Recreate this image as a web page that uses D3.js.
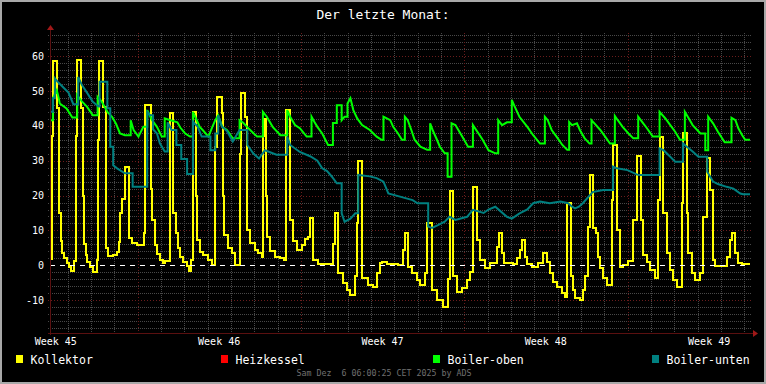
<!DOCTYPE html>
<html>
<head>
<meta charset="utf-8">
<script src="https://cdn.jsdelivr.net/npm/d3@7"></script>
<style>
  html, body { margin: 0; padding: 0; background: #000; }
  svg { display: block; }
  text { font-family: "DejaVu Sans Mono", monospace; }
</style>
</head>
<body>
<script>
// values: [hours since start, temperature]
const kollektor = [
  [1,1.7],[2,37],[3,58.6],[7,45],[9,15],[11,7],[12,3.6],[14,2],[17,0.7],[20,-0.6],[22,-1.5],[25,1.2],
  [27,37],[28,59],[32,45],[34,20],[35,6],[37,3],[38,1],[41,-0.6],[44,-1.8],[48,1.5],
  [49,36],[50,58.5],[55,45.4],[58,4.9],[60,2.7],[65,3],[69,3.8],[71,6.8],[72,15],[74,19],[77,28.3],
  [81,7.8],[84,6.4],[89,5.8],[97,9.2],[98,46],[104,22],[105,13],[108,5.8],[110,3.2],[113,1.5],[116,0.7],[118,1.3],
  [123,43.6],[127,15],[130,9.2],[132,5],[134,2.5],[137,1],[141,-0.2],[143,-1.5],[145,1.5],
  [147,44],[150,20],[151,7.3],[154,3.9],[157,3],[163,1.5],[167,0],
  [170,34],[172,48.3],[177,43.6],[178,20],[179,8.7],[183,5],[187,3.5],[190,0],
  [195,32],[196,49.3],[201,42.6],[203,10],[206,6.4],[211,4.4],[214,3.5],[218,2.5],
  [219,37],[220,42],[222,20],[223,8],[226,4],[231,2.5],[237,2],[241,1.5],
  [243,44.5],[247,13],[250,7],[254,4.4],[259,5.8],[262,7.5],[265,8.2],[267,13.7],[271,1.5],[276,0.4],
  [291,6],[293,15],[296,-2.3],[301,-5],[305,-7],[309,-8.5],[314,-3],[316,12],[317,30],
  [321,-3.6],[327,-5.6],[332,-6.1],[336,-2.3],[339,0.6],[341,1],[347,0.3],[358,0],
  [363,4.4],[365,9.2],[368,-0.4],[372,-2.3],[377,-4.2],[381,-5.6],[386,-2.3],[388,12],
  [393,-7],[398,-10],[404,-12],[409,-4],[411,21.3],[415,-3],[419,-7.6],[424,-6.6],[429,-4.2],[432,-1.8],
  [435,22.5],[439,7.2],[442,1.5],[447,-0.8],[453,0.6],[460,5.3],[462,9.2],[465,3.5],[467,0.75],
  [476,0.4],[480,2],[483,4.4],[485,7.2],[489,2.5],[491,0.4],[496,-0.4],[502,0.6],[507,3.5],[511,1],
  [514,-2.3],[517,-4.7],[521,-6.1],[527,-8],[530,-9],[532,17.8],[536,-3],[538,-7],[540,-9.5],[545,-10],
  [548,-7],[550,-3],[553,11],[555,25.9],[559,10.7],[562,9.2],[564,2.5],[566,-0.8],[569,-3.6],[573,-5.6],
  [578,18.7],[579,34.5],[583,10],[586,-0.4],[589,0],[595,1.3],[600,13],[604,31.3],[608,13],[610,3],
  [614,1],[617,-1.3],[622,-3.6],[625,18.7],[627,36.9],[631,15],[635,3.5],[638,-1.3],[641,-4.2],[645,-6.1],
  [650,18],[651,37.9],[655,15],[656,3.5],[660,-2.3],[663,-4.2],[669,-2.3],[672,13.9],[676,30.7],[679,21.6],
  [682,1.5],[684,-0.2],[696,2.5],[699,7.2],[701,9.2],[705,3.5],[708,0.7],[712,0.4]
];

const heizkessel = [];

const boilerOben = [
  [1,41.6],[3,47.9],[7,50.2],[9,47.9],[10,46.4],[17,45],[23,42.4],[28,48.8],[33,46.9],[38,45.5],[44,43],
  [49,48.3],[53,47],[59,44],[64,42.5],[68,40.5],[72,37.8],[77,37.3],[83,41.6],[86,38.8],[91,36.9],[96,39.7],
  [100,44.5],[105,41.6],[110,39.7],[115,36.9],[118,42.1],[131,41],[134,39.5],[139,37.8],[144,36.9],
  [147,44],[151,41.6],[154,39.7],[157,38.8],[163,36.9],[167,39.7],[170,41.6],[173,43],[177,39.7],[182,38.8],
  [188,36.4],[195,41.6],[199,40.8],[204,39.3],[213,36.9],[219,44],[223,42.6],[229,39.7],[237,37.3],
  [244,44.5],[247,42.6],[252,40.2],[257,39.3],[264,36.9],[269,42.6],[272,41.1],[275,39.7],[280,37.8],[286,34.5],
  [291,40.8],[295,45.9],[300,41.6],[303,42.6],[306,46.4],[309,47.9],[312,44.5],[316,42.1],[321,40.2],[329,38.8],
  [336,36.9],[341,36],[343,42.6],[350,41.6],[353,39.7],[358,37.8],[362,36],[365,42.6],[368,41.6],[372,38.5],
  [375,36],[381,34],[388,33.1],[391,40.7],[394,38.5],[398,36],[401,34],[406,32.1],[409,25.4],[413,40.7],
  [417,40.2],[424,36.9],[430,34],[435,40.2],[442,37.3],[445,36],[451,33],[458,32.1],[461,41.6],[465,40.2],
  [470,41],[475,47.4],[478,45.5],[483,42.5],[491,39.7],[497,37.3],[504,34.9],[509,42.6],[512,41.6],[516,38.8],
  [521,36.9],[527,34.5],[532,33.1],[534,41.1],[537,40.2],[542,40.7],[545,38.8],[550,36.4],[555,34.9],
  [557,41.6],[560,40.7],[566,38.8],[571,36.9],[576,34.9],[581,42.8],[584,41.6],[589,39.7],[595,37.8],[600,36.4],
  [605,42.6],[609,41.1],[614,39.3],[620,36.9],[627,44],[633,42.1],[638,40.2],[643,38.3],[648,36],
  [653,44],[656,42.6],[661,40.2],[669,37.8],[674,33],[677,42.6],[682,40.7],[687,38.3],[694,35.3],
  [701,42.3],[705,41.6],[708,39.3],[712,37.3],[715,36]
];

const boilerUnten = [
  [1,44],[3,47.9],[5,53.6],[8,52.6],[13,51.2],[19,49.5],[24,46.2],[29,54],[33,51.6],[38,49.5],[44,46.9],
  [50,45.5],[51,52.6],[59,45],[62,34],[65,28.7],[69,27.8],[77,26.4],[85,22.5],[100,44],[103,43],[106,39],
  [110,37.8],[113,35],[118,32.6],[121,41],[125,38.8],[130,34.5],[135,30.5],[141,26.2],[147,41.2],[152,39.7],
  [156,36.9],[165,33],[170,37.8],[173,43],[177,39.7],[182,38.5],[188,35.5],[195,38.8],[203,34.5],[209,32.1],
  [215,30.6],[221,33],[233,31.7],[244,36.9],[247,34.5],[257,32.5],[268,31.2],[275,30],[280,27.8],[285,27],
  [290,25.4],[295,23.5],[300,14.9],[303,12.5],[309,13.4],[314,14.9],[317,25.9],[329,25.5],[336,25],
  [343,24],[348,20.6],[360,19.7],[373,18.7],[378,17.8],[389,11.1],[393,10.7],[399,11.5],[406,12.5],[411,13.9],
  [417,13],[429,13.9],[435,15.9],[446,15],[451,16],[458,16.8],[470,13.9],[475,13.4],[483,14.9],[491,16],
  [497,17.8],[504,18.3],[514,17.8],[525,18.3],[533,17.8],[537,16.8],[540,16.3],[544,16.8],[548,17.8],
  [557,20.6],[558,21],[569,21.6],[579,28.3],[583,27.8],[594,27.3],[604,26],[607,25.9],[627,33.5],[631,33],
  [638,31.1],[643,29.7],[651,35],[655,34],[661,32.6],[667,31.1],[676,26.8],[682,24],[687,23.3],[696,22.5],
  [703,22],[710,20.6],[713,20.4]
];

const startTime = "2025-11-06T06:00:00Z";
const endTime = "2025-12-06T06:00:00Z";
const weekStarts = ["2025-11-03", "2025-11-10", "2025-11-17", "2025-11-24", "2025-12-01"];
const weekLabels = ["Week 45", "Week 46", "Week 47", "Week 48", "Week 49"];
const yTicks = [-10, 0, 10, 20, 30, 40, 50, 60];
const yDomain = [-19.4, 66.6];

// jump: changes bigger than this are drawn as hard steps, smaller ones as slopes
const series = [
  { name: "Kollektor", color: "#ffff00", values: kollektor, jump: 0 },
  { name: "Heizkessel", color: "#ff0000", values: heizkessel, jump: 0 },
  { name: "Boiler-oben", color: "#00ff00", values: boilerOben, jump: 3.5 },
  { name: "Boiler-unten", color: "#008080", values: boilerUnten, jump: 3.5 }
];

const W = 766, H = 384;
const plotL = 50, plotR = 750, plotT = 33, plotB = 333;
const spanHours = 720;

const t0 = new Date(startTime), t1 = new Date(endTime);
const hourToDate = (h) => new Date(t0.getTime() + h * 3600e3);

const x = d3.scaleUtc().domain([t0, t1]).range([plotL, plotR]);
const y = d3.scaleLinear().domain(yDomain).range([plotB, plotT]);

const svg = d3.select("body").append("svg")
  .attr("width", W)
  .attr("height", H);

// frame
svg.append("rect").attr("width", W).attr("height", H).attr("fill", "#a8a8a8");
svg.append("rect").attr("x", 2).attr("y", 2).attr("width", W - 4).attr("height", H - 4).attr("fill", "#000");

const grid = svg.append("g").attr("shape-rendering", "crispEdges");

// minor horizontal grid every 2 units
const minorY = d3.range(-18, 67, 2).filter((v) => v % 10 !== 0);
grid.selectAll(".hmin")
  .data(minorY)
  .enter()
  .append("line")
  .attr("x1", plotL - 2).attr("x2", plotR + 2)
  .attr("y1", (d) => Math.round(y(d)) + 0.5)
  .attr("y2", (d) => Math.round(y(d)) + 0.5)
  .attr("stroke", "#484848")
  .attr("stroke-dasharray", "1,1");

// minor vertical grid at each day
const days = d3.utcDay.range(t0, t1).filter((d) => d.getUTCDay() !== 1);
grid.selectAll(".vmin")
  .data(days)
  .enter()
  .append("line")
  .attr("x1", (d) => Math.round(x(d)) + 0.5)
  .attr("x2", (d) => Math.round(x(d)) + 0.5)
  .attr("y1", plotT).attr("y2", plotB + 2)
  .attr("stroke", "#484848")
  .attr("stroke-dasharray", "1,1");

// major grid
grid.selectAll(".hmaj")
  .data(yTicks.filter((v) => v !== 0))
  .enter()
  .append("line")
  .attr("x1", plotL - 2).attr("x2", plotR + 2)
  .attr("y1", (d) => Math.round(y(d)) + 0.5)
  .attr("y2", (d) => Math.round(y(d)) + 0.5)
  .attr("stroke", "#6a1c1c")
  .attr("stroke-dasharray", "1,2");

grid.selectAll(".vmaj")
  .data(d3.utcMonday.range(t0, t1))
  .enter()
  .append("line")
  .attr("x1", (d) => Math.round(x(d)) + 0.5)
  .attr("x2", (d) => Math.round(x(d)) + 0.5)
  .attr("y1", plotT).attr("y2", plotB + 2)
  .attr("stroke", "#6a1c1c")
  .attr("stroke-dasharray", "1,2");

// y labels
svg.selectAll(".ylab")
  .data(yTicks)
  .enter()
  .append("text")
  .attr("x", 44)
  .attr("y", (d) => y(d) + 3.6)
  .attr("text-anchor", "end")
  .attr("fill", "#ffffff")
  .attr("font-size", "10px")
  .text((d) => d);

// x labels (centred in the middle of each week)
svg.selectAll(".xlab")
  .data(weekStarts)
  .enter()
  .append("text")
  .attr("x", (d) => x(new Date(new Date(d + "T00:00:00Z").getTime() + 3.5 * 864e5)))
  .attr("y", 345)
  .attr("text-anchor", "middle")
  .attr("fill", "#ffffff")
  .attr("font-size", "10px")
  .text((d, i) => weekLabels[i]);

// lines: vertices for a stepped trace, small changes drawn as slopes
function vertices(values, jump) {
  const pts = values.concat([[spanHours, values[values.length - 1][1]]]);
  const out = [pts[0]];
  for (let i = 1; i < pts.length; i++) {
    const a = pts[i - 1], b = pts[i];
    if (Math.abs(b[1] - a[1]) > jump) out.push([b[0], a[1]]);
    out.push(b);
  }
  return out;
}

const line = d3.line()
  .x((d) => x(hourToDate(d[0])))
  .y((d) => y(d[1]));

series.forEach((s) => {
  if (!s.values.length) return;
  svg.append("path")
    .datum(vertices(s.values, s.jump))
    .attr("d", line)
    .attr("fill", "none")
    .attr("stroke", s.color)
    .attr("stroke-width", 2)
    .attr("stroke-linejoin", "miter")
    .attr("shape-rendering", s.jump ? "auto" : "crispEdges");
});

// zero rule
svg.append("line")
  .attr("x1", plotL).attr("x2", plotR)
  .attr("y1", Math.round(y(0)) + 0.5).attr("y2", Math.round(y(0)) + 0.5)
  .attr("stroke", "#ffffff")
  .attr("stroke-dasharray", "5,5")
  .attr("shape-rendering", "crispEdges");

// axes with arrows
const axis = svg.append("g").attr("shape-rendering", "crispEdges");
axis.append("line")
  .attr("x1", plotL - 2).attr("x2", plotR + 5)
  .attr("y1", plotB + 0.5).attr("y2", plotB + 0.5)
  .attr("stroke", "#5a1010");
axis.append("line")
  .attr("x1", plotL + 0.5).attr("x2", plotL + 0.5)
  .attr("y1", plotB + 2).attr("y2", plotT - 4)
  .attr("stroke", "#5a1010");
svg.append("path")
  .attr("d", `M${plotR + 3},${plotB - 3}L${plotR + 8},${plotB + 0.5}L${plotR + 3},${plotB + 4}Z`)
  .attr("fill", "#a01818");
svg.append("path")
  .attr("d", `M${plotL - 3},${plotT - 3}L${plotL + 0.5},${plotT - 8}L${plotL + 4},${plotT - 3}Z`)
  .attr("fill", "#a01818");

// title
svg.append("text")
  .attr("x", 383)
  .attr("y", 18.5)
  .attr("text-anchor", "middle")
  .attr("fill", "#ffffff")
  .attr("font-size", "13px")
  .text("Der letzte Monat:");

// legend
const legendX = [16, 221, 433, 652];
const legend = svg.selectAll(".leg")
  .data(series)
  .enter()
  .append("g")
  .attr("transform", (d, i) => `translate(${legendX[i]},355)`);
legend.append("rect")
  .attr("width", 7).attr("height", 8)
  .attr("fill", (d) => d.color);
legend.append("text")
  .attr("x", 14.5)
  .attr("y", 8.5)
  .attr("fill", "#ffffff")
  .attr("font-size", "11.5px")
  .text((d) => d.name);

// footer
svg.append("text")
  .attr("x", 384)
  .attr("y", 376)
  .attr("text-anchor", "middle")
  .attr("fill", "#707070")
  .attr("font-size", "8.3px")
  .style("white-space", "pre")
  .text("Sam Dez  6 06:00:25 CET 2025 by ADS");
</script>
</body>
</html>
